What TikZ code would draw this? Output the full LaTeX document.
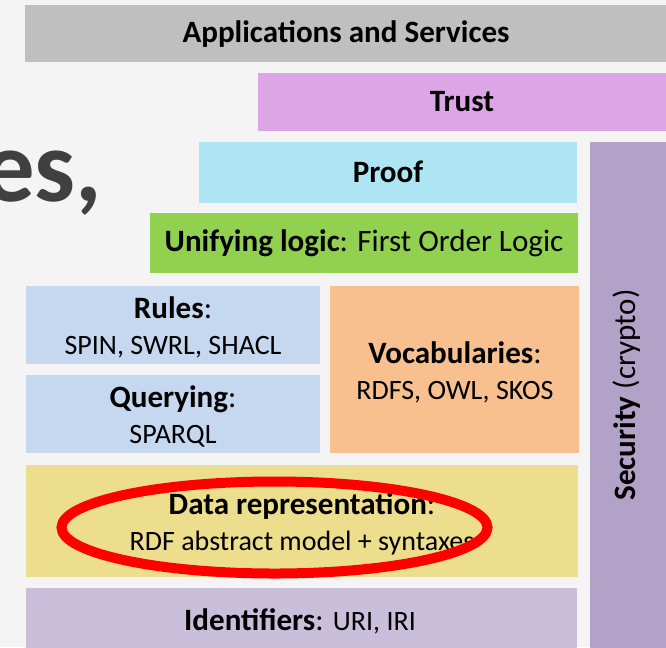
\documentclass[tikz,border=0pt]{standalone}
\usepackage{fontspec}
\setmainfont{Carlito}
\definecolor{backgray}{HTML}{F4F4F4}
\definecolor{titlegray}{HTML}{404040}
\definecolor{appgray}{HTML}{BFBFBF}
\definecolor{trustpink}{HTML}{DCA6E6}
\definecolor{proofblue}{HTML}{ADE5F3}
\definecolor{logicgreen}{HTML}{92D050}
\definecolor{ruleblue}{HTML}{C5D8F0}
\definecolor{vocaborange}{HTML}{F8C08F}
\definecolor{datayellow}{HTML}{ECDE8C}
\definecolor{idlilac}{HTML}{C9BFDA}
\definecolor{secpurple}{HTML}{B3A2C7}
\newcommand\hd{\fontsize{23.3}{28}\selectfont}
\newcommand\sm{\fontsize{21}{27}\selectfont}

\begin{document}
\begin{tikzpicture}[x=0.75pt,y=-0.75pt,
	layer/.style={rectangle, inner sep=0pt, anchor=north west, align=center, text=black}]
		%%%%% START %%%%%
		
		\useasboundingbox (0,0) rectangle (666,647);
		\fill[backgray] (0,0) rectangle (666,647);
		
		\node[anchor=base west, inner sep=0pt, text=titlegray, font=\fontsize{77}{77}\selectfont\bfseries] (slidetitle) at (-17,201) {es,};
		
		\node[layer, fill=appgray, minimum width={660*0.75pt}, minimum height={57*0.75pt}] (apps) at (25,5) {};
		\node[font=\hd\bfseries] (appslabel) at (346,34) {Applications and Services};
		
		\node[layer, fill=trustpink, minimum width={420*0.75pt}, minimum height={58*0.75pt}] (trust) at (258,73) {};
		\node[font=\hd\bfseries] (trustlabel) at (462,102) {Trust};
		
		\node[layer, fill=secpurple, minimum width={90*0.75pt}, minimum height={520*0.75pt}] (security) at (590,142) {};
		\node[rotate=90, font=\hd] (seclabel) at (627,395) {\textbf{Security} (crypto)};
		
		\node[layer, fill=proofblue, minimum width={378*0.75pt}, minimum height={61*0.75pt}] (proof) at (199,142) {};
		\node[font=\hd\bfseries] (prooflabel) at (388,172) {Proof};
		
		\node[layer, fill=logicgreen, minimum width={428*0.75pt}, minimum height={60*0.75pt}] (logic) at (150,213) {};
		\node[font=\hd] (logiclabel) at (364,243) {\textbf{Unifying logic}: First Order Logic};
		
		\node[layer, fill=ruleblue, minimum width={294*0.75pt}, minimum height={78*0.75pt}] (rules) at (26,286) {};
		\node[align=center, font=\sm] (ruleslabel) at (173,327) {{\hd\textbf{Rules}:}\\SPIN, SWRL, SHACL};
		
		\node[layer, fill=ruleblue, minimum width={294*0.75pt}, minimum height={78*0.75pt}] (query) at (26,375) {};
		\node[align=center, font=\sm] (querylabel) at (173,416) {{\hd\textbf{Querying}:}\\SPARQL};
		
		\node[layer, fill=vocaborange, minimum width={249*0.75pt}, minimum height={167*0.75pt}] (vocab) at (330,286) {};
		\node[align=center, font=\sm] (vocablabel) at (455,372) {{\hd\textbf{Vocabularies}:}\\RDFS, OWL, SKOS};
		
		\node[layer, fill=datayellow, minimum width={552*0.75pt}, minimum height={112*0.75pt}] (data) at (26,465) {};
		\node[align=center, font=\sm] (datalabel) at (302,524) {{\hd\textbf{Data representation}:}\\RDF abstract model + syntaxes};
		
		\node[layer, fill=idlilac, minimum width={551*0.75pt}, minimum height={70*0.75pt}] (ident) at (26,588) {};
		\node[font=\hd] (identlabel) at (300,621) {\textbf{Identifiers}: {\sm URI, IRI}};
		
		\draw[red, line width=7.5pt] (274.5,527.5) ellipse [x radius=213, y radius=46];
		
		%%%%% END %%%%%
\end{tikzpicture}
\end{document}
